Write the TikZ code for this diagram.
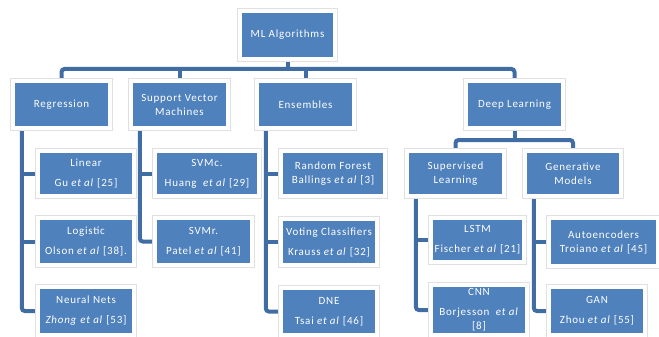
\documentclass[tikz,border=0pt]{standalone}
\usepackage{fontspec}
\setmainfont{Carlito}[LetterSpace=7]
\usetikzlibrary{backgrounds}
\definecolor{boxblue}{HTML}{4F81BD}
\definecolor{linkblue}{HTML}{416DA5}
\definecolor{framegray}{HTML}{E0E0E0}
\tikzstyle{block}=[fill=boxblue, text=white, inner sep=0pt, align=center,
  font=\fontsize{11}{14}\selectfont,
  preaction={draw=framegray, line width=10pt},
  preaction={draw=white, line width=8pt}]
\tikzstyle{link}=[draw=linkblue, line width=4pt, rounded corners=3pt]
\newcommand{\etal}{\textit{et al}}

\begin{document}
\begin{tikzpicture}[x=1pt, y=-1pt]
          \useasboundingbox (0, 0) rectangle (659, 337);

          \node[block, minimum width=91pt, minimum height=44pt] (root) at (287.5, 35) {ML Algorithms};

          \node[block, minimum width=93pt, minimum height=43pt] (reg) at (61.5, 104.5) {Regression};
          \node[block, minimum width=93pt, minimum height=43pt] (svm) at (179.5, 104.5) {Support Vector\\Machines};
          \node[block, minimum width=93pt, minimum height=43pt] (ens) at (305.5, 104.5) {Ensembles};
          \node[block, minimum width=93pt, minimum height=43pt] (dl) at (514.5, 104.5) {Deep Learning};

          \node[block, minimum width=93pt, minimum height=41pt] (sup) at (455.5, 173.5) {Supervised\\Learning};
          \node[block, minimum width=92pt, minimum height=41pt] (gen) at (573, 173.5) {Generative\\Models};

          \node[block, minimum width=92pt, minimum height=41pt] (lin) at (86, 173.5) {Linear\\[6pt]Gu \etal{} [25]};
          \node[block, minimum width=92pt, minimum height=43pt] (log) at (86, 241.5) {Logistic\\[6pt]Olson \etal{} [38].};
          \node[block, minimum width=92pt, minimum height=44pt] (nn) at (86, 311) {Neural Nets\\[6pt]\textit{Zhong} \etal{} [53]};

          \node[block, minimum width=100pt, minimum height=41pt] (svmc) at (207, 173.5) {SVMc.\\[6pt]Huang~ \etal{} [29]};
          \node[block, minimum width=93pt, minimum height=43pt] (svmr) at (203.5, 241.5) {SVMr.\\[6pt]Patel \etal{} [41]};

          \node[block, minimum width=100pt, minimum height=41pt] (rf) at (333, 173.5) {Random Forest\\Ballings \etal{} [3]};
          \node[block, minimum width=92pt, minimum height=42pt] (vote) at (329, 242) {Voting Classifiers\\[6pt]Krauss \etal{} [32]};
          \node[block, minimum width=92pt, minimum height=43pt] (dne) at (329, 311.5) {DNE\\[6pt]Tsai \etal{} [46]};

          \node[block, minimum width=89pt, minimum height=40pt] (lstm) at (477.5, 240) {LSTM\\[6pt]Fischer \etal{} [21]};
          \node[block, minimum width=92pt, minimum height=46pt] (cnn) at (479, 310) {CNN\\[6pt]Borjesson~ \etal\\{}[8]};

          \node[block, minimum width=105pt, minimum height=44pt] (auto) at (603.5, 242) {Autoencoders\\Troiano \etal{} [45]};
          \node[block, minimum width=92pt, minimum height=44pt] (gan) at (597, 311) {GAN\\[6pt]Zhou \etal{} [55]};

          \begin{scope}[on background layer]
            \coordinate (bus) at (287.5, 69);
            \draw[link] (reg.north) |- (bus) -| (dl.north);
            \draw[link] (root.south) -- (bus);
            \draw[link] (svm.north) -- (svm.north |- bus);
            \draw[link] (ens.north) -- (ens.north |- bus);

            \coordinate (dlbus) at (514.5, 140);
            \draw[link] (sup.north) |- (dlbus) -| (gen.north);
            \draw[link] (dl.south) -- (dlbus);

            \foreach \p in {reg, svm, ens, sup, gen}
              \coordinate (\p-trunk) at ([xshift=7pt]\p.south west);
            \foreach \p/\c in {reg/nn, svm/svmr, ens/dne, sup/cnn, gen/gan}
              \draw[link] (\p-trunk) |- (\c.west);
            \foreach \p/\c in {reg/lin, reg/log, svm/svmc, ens/rf, ens/vote, sup/lstm, gen/auto}
              \draw[link] (\p-trunk |- \c.west) -- (\c.west);
          \end{scope}
        \end{tikzpicture}
\end{document}
